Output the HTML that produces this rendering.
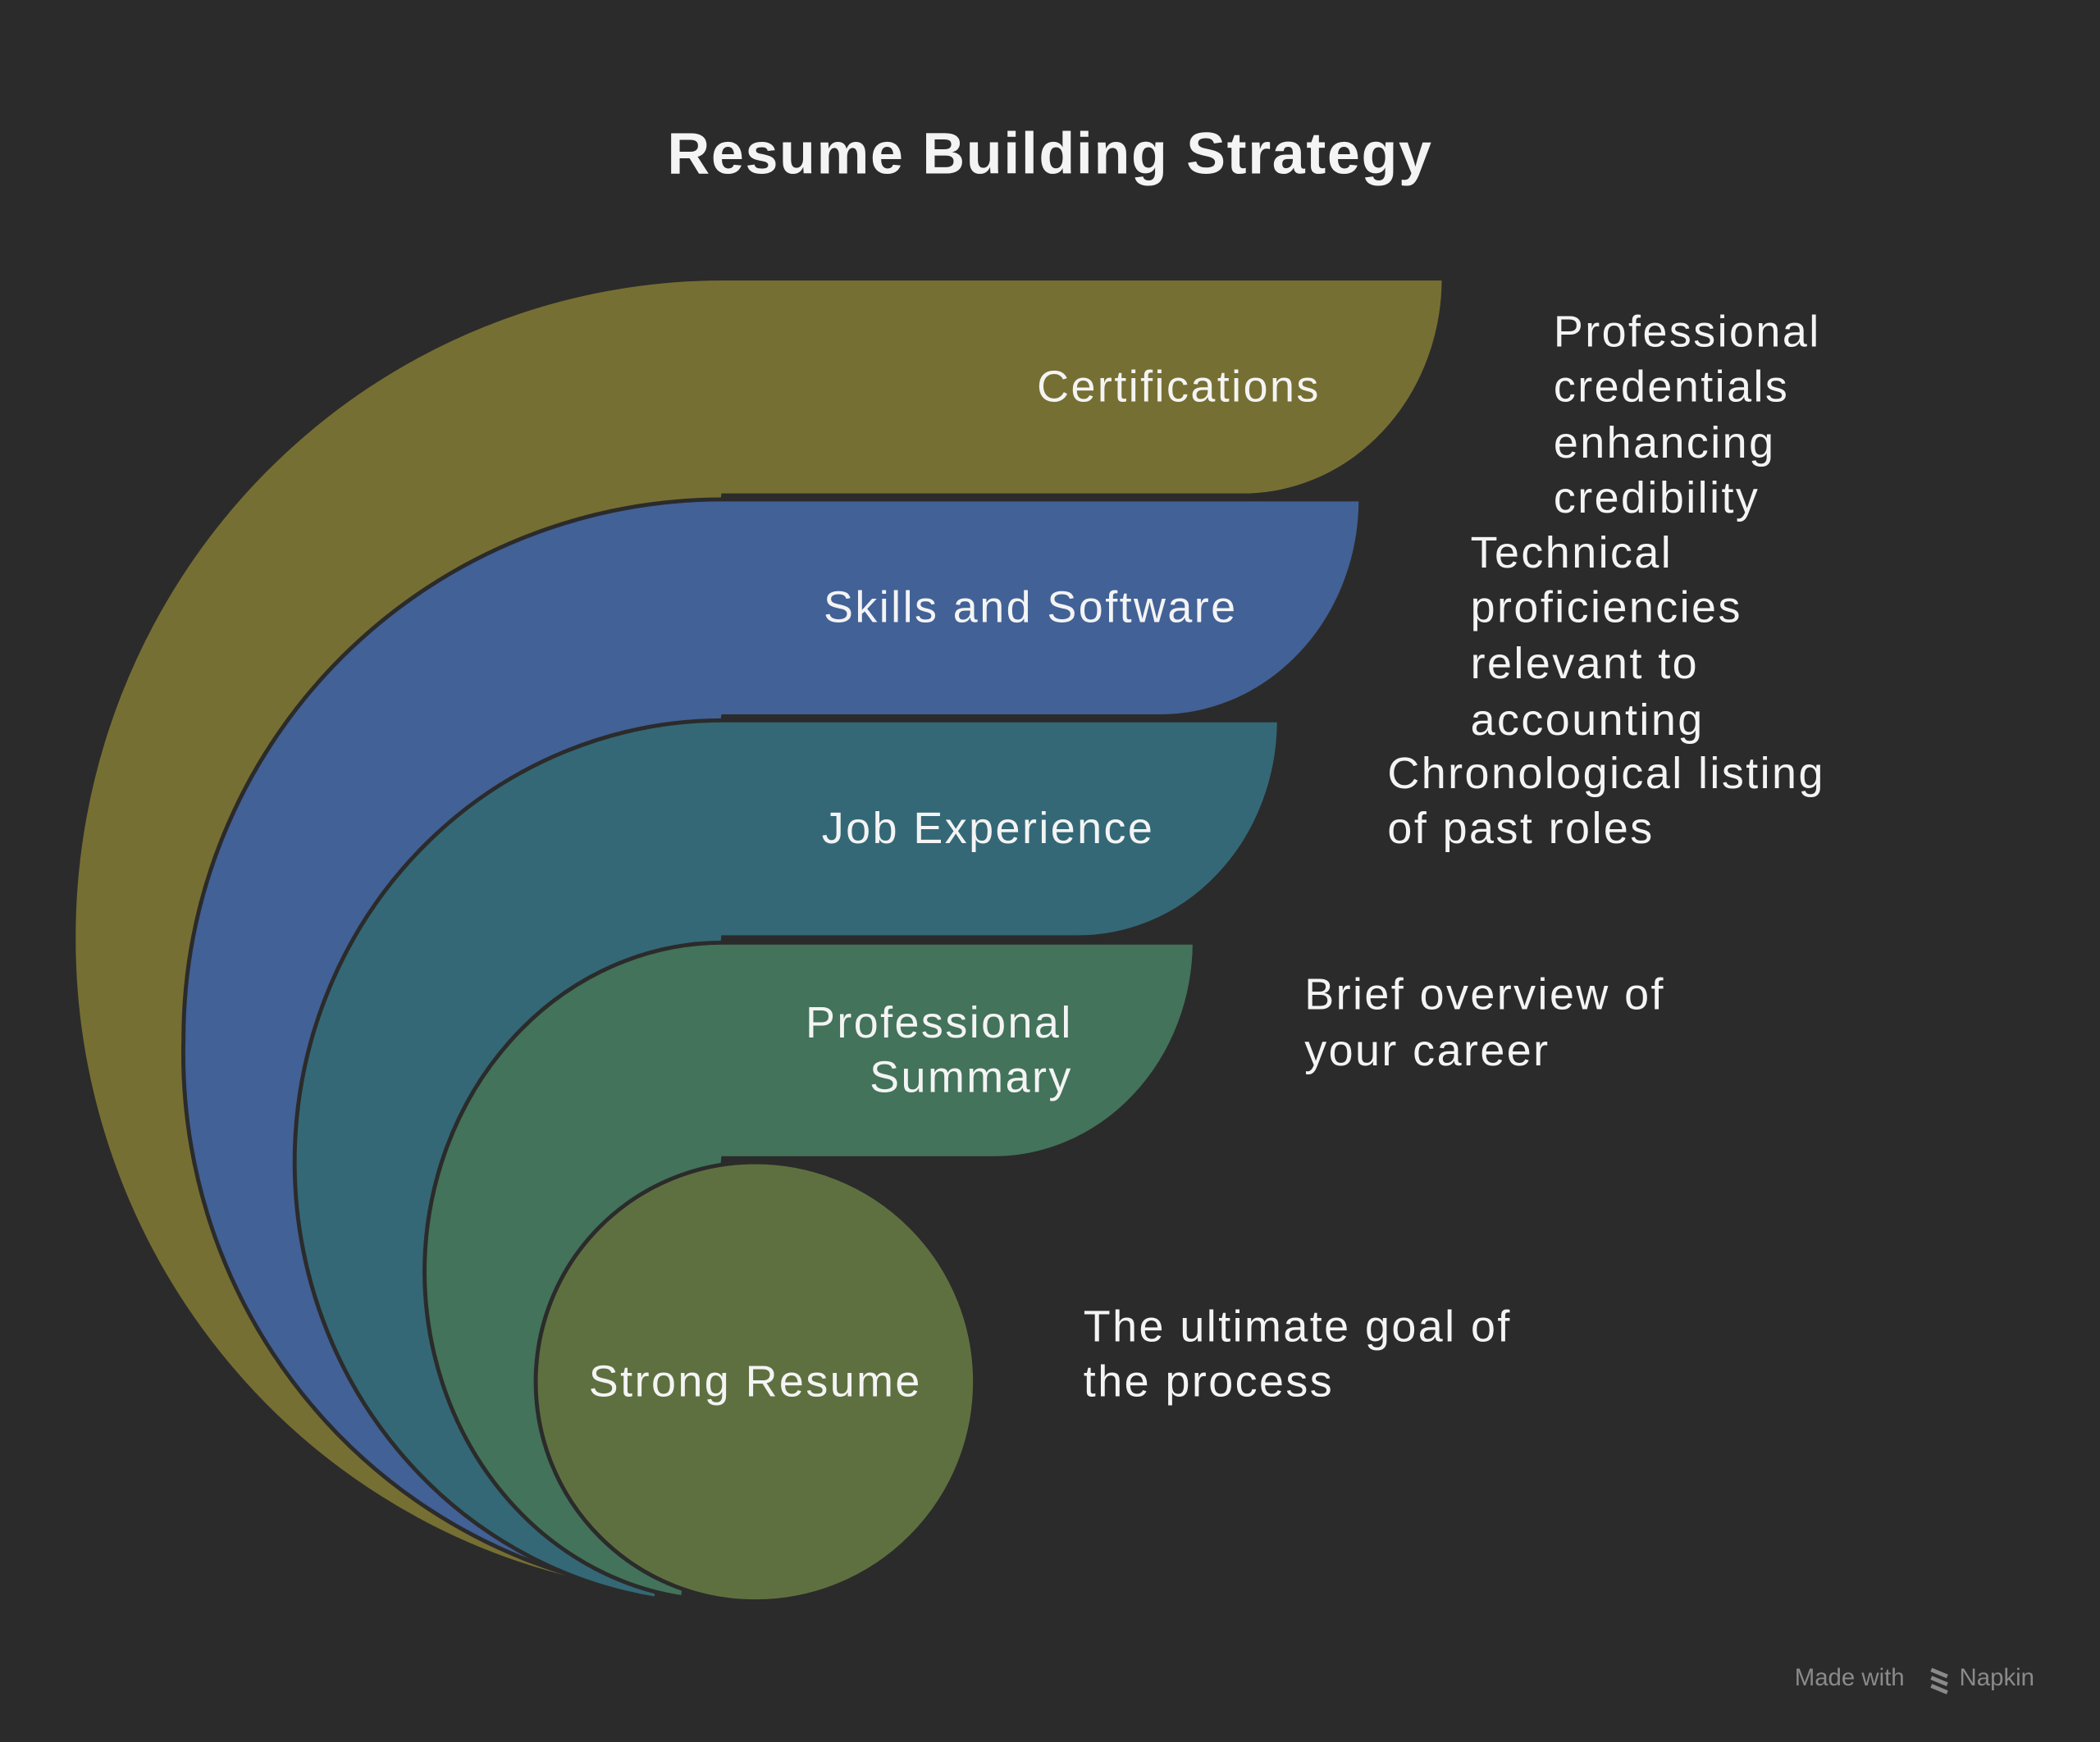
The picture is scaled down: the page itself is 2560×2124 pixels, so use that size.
<!DOCTYPE html>
<html><head><meta charset="utf-8"><style>
html,body{margin:0;padding:0;background:#2b2b2b;}
svg{display:block}
text{font-family:"Liberation Sans",sans-serif;fill:#f4f4f4;}
</style></head><body>
<svg width="2560" height="2124" viewBox="0 0 1568 1301" preserveAspectRatio="none" xmlns="http://www.w3.org/2000/svg">
<rect width="1568" height="1301" fill="#2b2b2b"/>
<text x="784" y="118" font-size="44" font-weight="bold" text-anchor="middle" dominant-baseline="middle" letter-spacing="1">Resume Building Strategy</text>
<g stroke="#2b2b2b" stroke-width="3">
<path d="M430,1180 A485,492 0 0 1 55,700 A485,492 0 0 1 540,208 L1078,208 A150,162 0 0 1 925,370 L540,370 L430,1180 Z" fill="#766f33"/>
<path d="M440,1180 A403,406 0 0 1 137,776 A403,403 0 0 1 540,373 L1016,373 A150,162 0 0 1 863,535 L540,535 L440,1180 Z" fill="#426196"/>
<path d="M490,1194 A320,330 0 0 1 220,868 A320,330 0 0 1 540,538 L955,538 A150,162 0 0 1 802,700 L540,700 L490,1194 Z" fill="#346876"/>
<path d="M510,1193 A223,246 0 0 1 317,950 A223,246 0 0 1 540,704 L892,704 A150,162 0 0 1 740,865 L540,865 L510,1193 Z" fill="#43735a"/>
<circle cx="564" cy="1032" r="164" fill="#5f7040"/>
</g>
<g font-size="33" dominant-baseline="middle" letter-spacing="1.5">
<text x="986" y="291" text-anchor="end">Certifications</text>
<text x="924" y="456" text-anchor="end">Skills and Software</text>
<text x="862" y="621" text-anchor="end">Job Experience</text>
<text x="801" y="766" text-anchor="end">Professional</text>
<text x="801" y="807" text-anchor="end">Summary</text>
<text x="564" y="1034" text-anchor="middle">Strong Resume</text>
<text x="1160" y="250">Professional</text>
<text x="1160" y="291">credentials</text>
<text x="1160" y="333">enhancing</text>
<text x="1160" y="374">credibility</text>
<text x="1098" y="415">Technical</text>
<text x="1098" y="456">proficiencies</text>
<text x="1098" y="498">relevant to</text>
<text x="1098" y="540">accounting</text>
<text x="1036" y="580">Chronological listing</text>
<text x="1036" y="621">of past roles</text>
<text x="974" y="745">Brief overview of</text>
<text x="974" y="787">your career</text>
<text x="809" y="993">The ultimate goal of</text>
<text x="809" y="1034">the process</text>
</g>
<text x="1340" y="1254" font-size="18" dominant-baseline="middle" style="fill:#8a8a8a">Made with</text>
<path d="M1442,1247 l12,5 M1442,1253 l12,5 M1442,1259 l12,5" stroke="#8a8a8a" stroke-width="3"/>
<text x="1463" y="1254" font-size="18" dominant-baseline="middle" style="fill:#8a8a8a">Napkin</text>
</svg>
</body></html>
